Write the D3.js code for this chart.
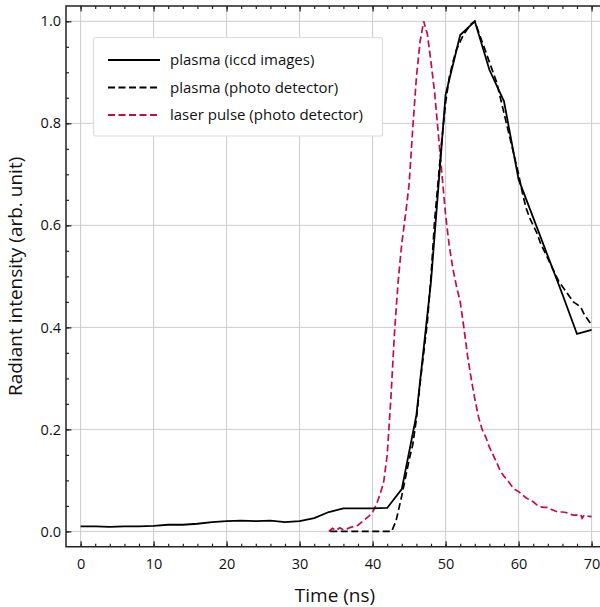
<!DOCTYPE html>
<html>
<head>
<meta charset="utf-8">
<script src="https://cdn.jsdelivr.net/npm/d3@7"></script>
<style>
body { margin: 0; background: #fff; }
text { font-family: "Open Sans", sans-serif; fill: #111; }
</style>
</head>
<body>
<script>
// plasma emission from iccd images (every 2 ns)
var iccdTime = [0, 2, 4, 6, 8, 10, 12, 14, 16, 18, 20, 22, 24, 26, 28, 30, 32, 34, 36, 38, 40, 42,
    44, 46, 48, 50, 52, 54, 56, 58, 60, 62, 64, 66, 68, 70];
var iccdValue = [0.010, 0.010, 0.009, 0.010, 0.010, 0.011, 0.013, 0.013, 0.015, 0.018, 0.020, 0.021,
    0.020, 0.021, 0.018, 0.020, 0.026, 0.038, 0.045, 0.045, 0.045, 0.046,
    0.083, 0.228, 0.490, 0.856, 0.973, 1.000, 0.905, 0.843, 0.690, 0.615, 0.540, 0.465, 0.387, 0.395];

// plasma emission from photo detector
var pdTime = [34.2, 42.6, 43.2, 44.0, 45.0, 45.5, 46.0, 46.5, 47.0, 47.5, 48.0, 48.5, 49.0, 49.5,
    50.0, 50.5, 51.0, 51.5, 52.0, 52.5, 53.0, 53.5, 54.0, 54.5, 55.0, 55.5, 56.0, 56.5, 57.0, 57.5,
    58.0, 58.5, 59.0, 59.5, 60.0, 60.5, 61.0, 61.5, 62.0, 62.5, 63.0, 63.5, 64.0, 64.5, 65.0, 65.5,
    66.0, 66.5, 67.0, 67.5, 68.0, 68.5, 69.0, 69.5, 70.0];
var pdValue = [0.000, 0.000, 0.020, 0.070, 0.140, 0.170, 0.220, 0.290, 0.350, 0.410, 0.500, 0.610,
    0.690, 0.770, 0.840, 0.890, 0.920, 0.945, 0.960, 0.975, 0.985, 0.995, 1.000, 0.980, 0.960, 0.940,
    0.920, 0.900, 0.880, 0.850, 0.820, 0.790, 0.760, 0.730, 0.700, 0.665, 0.635, 0.615, 0.600, 0.585,
    0.565, 0.550, 0.535, 0.520, 0.505, 0.490, 0.480, 0.470, 0.460, 0.450, 0.445, 0.440, 0.425, 0.415,
    0.405];

// laser pulse from photo detector
var laserTime = [34.0, 34.5, 35.0, 35.5, 36.0, 36.5, 37.0, 37.5, 38.0, 38.5, 39.0, 39.5, 40.0, 40.5,
    41.0, 41.5, 42.0, 42.5, 43.0, 43.5, 44.0, 44.5, 45.0, 45.5, 46.0, 46.5, 47.0, 47.5, 48.0, 48.5,
    49.0, 49.5, 50.0, 50.5, 51.0, 51.5, 52.0, 52.5, 53.0, 53.5, 54.0, 54.5, 55.0, 55.5, 56.0, 56.5,
    57.0, 57.5, 58.0, 58.5, 59.0, 59.5, 60.0, 60.5, 61.0, 61.5, 62.0, 62.5, 63.0, 63.5, 64.0, 64.5,
    65.0, 65.5, 66.0, 66.5, 67.0, 67.5, 68.0, 68.5, 68.7, 69.0, 69.5, 70.0];
var laserValue = [0.000, 0.006, 0.002, 0.007, 0.003, 0.005, 0.008, 0.010, 0.012, 0.018, 0.024, 0.030,
    0.038, 0.052, 0.072, 0.095, 0.150, 0.260, 0.390, 0.490, 0.565, 0.620, 0.680, 0.790, 0.890, 0.960,
    1.000, 0.975, 0.920, 0.860, 0.780, 0.700, 0.620, 0.560, 0.515, 0.480, 0.450, 0.400, 0.345, 0.300,
    0.260, 0.225, 0.200, 0.185, 0.165, 0.150, 0.135, 0.118, 0.108, 0.100, 0.090, 0.082, 0.078, 0.072,
    0.066, 0.062, 0.058, 0.052, 0.048, 0.047, 0.047, 0.043, 0.040, 0.038, 0.038, 0.037, 0.034, 0.032,
    0.032, 0.033, 0.026, 0.032, 0.030, 0.029];

var xTicks = [0, 10, 20, 30, 40, 50, 60, 70];
var yTicks = [0.0, 0.2, 0.4, 0.6, 0.8, 1.0];
var legendLabels = ["plasma (iccd images)", "plasma (photo detector)", "laser pulse (photo detector)"];

function init() {
    var w = 600;
    var h = 607;
    var left = 66, right = 606.2, top = 6, bottom = 546.7;
    var red = "#c70a4e";

    var xScale = d3.scaleLinear().domain([-2, 72]).range([left, right]);
    var yScale = d3.scaleLinear().domain([-0.03, 1.03]).range([bottom, top]);

    var svg = d3.select("body").append("svg")
        .attr("width", w)
        .attr("height", h);

    svg.append("clipPath").attr("id", "plotClip")
        .append("rect")
        .attr("x", left).attr("y", top)
        .attr("width", right - left).attr("height", bottom - top);

    // grid
    svg.append("g").selectAll("line").data(xTicks).enter().append("line")
        .attr("x1", function(d) { return xScale(d); })
        .attr("x2", function(d) { return xScale(d); })
        .attr("y1", top).attr("y2", bottom)
        .attr("stroke", "#cccccc").attr("stroke-width", 1);
    svg.append("g").selectAll("line").data(yTicks).enter().append("line")
        .attr("y1", function(d) { return yScale(d); })
        .attr("y2", function(d) { return yScale(d); })
        .attr("x1", left).attr("x2", right)
        .attr("stroke", "#cccccc").attr("stroke-width", 1);

    // lines
    var line = d3.line()
        .x(function(d) { return xScale(d[0]); })
        .y(function(d) { return yScale(d[1]); });

    var plot = svg.append("g").attr("clip-path", "url(#plotClip)");

    plot.append("path")
        .datum(d3.zip(laserTime, laserValue))
        .attr("d", line)
        .attr("fill", "none")
        .attr("stroke", red)
        .attr("stroke-width", 1.7)
        .attr("stroke-dasharray", "7,3.5");

    plot.append("path")
        .datum(d3.zip(iccdTime, iccdValue))
        .attr("d", line)
        .attr("fill", "none")
        .attr("stroke", "#000")
        .attr("stroke-width", 1.8);

    plot.append("path")
        .datum(d3.zip(pdTime, pdValue))
        .attr("d", line)
        .attr("fill", "none")
        .attr("stroke", "#000")
        .attr("stroke-width", 1.7)
        .attr("stroke-dasharray", "7,3.5");

    // axes (ticks pointing inward)
    var xMinor = d3.range(0, 72, 2);
    var yMinor = d3.range(0, 21).map(function(i) { return i * 0.05; });

    svg.append("g")
        .attr("transform", "translate(0," + bottom + ")")
        .call(d3.axisBottom(xScale).tickValues(xMinor).tickSize(-3).tickFormat(""))
        .call(function(g) { g.select(".domain").remove(); });
    svg.append("g")
        .attr("transform", "translate(0," + bottom + ")")
        .call(d3.axisBottom(xScale).tickValues(xTicks).tickSize(-5.5).tickPadding(12).tickSizeOuter(0))
        .call(function(g) { g.select(".domain").remove(); });

    svg.append("g")
        .attr("transform", "translate(0," + top + ")")
        .call(d3.axisTop(xScale).tickValues(xMinor).tickSize(-3).tickFormat(""))
        .call(function(g) { g.select(".domain").remove(); });
    svg.append("g")
        .attr("transform", "translate(0," + top + ")")
        .call(d3.axisTop(xScale).tickValues(xTicks).tickSize(-5.5).tickFormat(""))
        .call(function(g) { g.select(".domain").remove(); });

    svg.append("g")
        .attr("transform", "translate(" + left + ",0)")
        .call(d3.axisLeft(yScale).tickValues(yMinor).tickSize(-3).tickFormat(""))
        .call(function(g) { g.select(".domain").remove(); });
    svg.append("g")
        .attr("transform", "translate(" + left + ",0)")
        .call(d3.axisLeft(yScale).tickValues(yTicks).tickSize(-5.5).tickPadding(5).tickFormat(d3.format(".1f")))
        .call(function(g) { g.select(".domain").remove(); });

    svg.selectAll(".tick line").attr("stroke", "#222").attr("stroke-width", 1.2);
    svg.selectAll(".tick text").style("font-family", "'Open Sans', sans-serif")
        .style("font-size", "14.5px").attr("fill", "#111");

    // spines
    svg.append("path")
        .attr("d", "M" + right + "," + top + "H" + left + "V" + bottom + "H" + right)
        .attr("fill", "none")
        .attr("stroke", "#222")
        .attr("stroke-width", 1.5);

    // legend
    var legend = svg.append("g").attr("transform", "translate(93.5,37.5)");
    legend.append("rect")
        .attr("width", 289).attr("height", 98.5)
        .attr("rx", 2)
        .attr("fill", "#fff")
        .attr("stroke", "#dcdcdc")
        .attr("stroke-width", 1.2);
    var styles = [
        { color: "#000", dash: null },
        { color: "#000", dash: "7,3.5" },
        { color: red, dash: "7,3.5" }
    ];
    legendLabels.forEach(function(label, i) {
        var y = 22.5 + i * 27.5;
        legend.append("line")
            .attr("x1", 14.5).attr("x2", 66.5)
            .attr("y1", y).attr("y2", y)
            .attr("stroke", styles[i].color)
            .attr("stroke-width", 1.8)
            .attr("stroke-dasharray", styles[i].dash);
        legend.append("text")
            .attr("x", 76.5).attr("y", y)
            .attr("dy", "0.35em")
            .style("font-size", "15px")
            .text(label);
    });

    // axis labels
    svg.append("text")
        .attr("x", 335).attr("y", 602)
        .attr("text-anchor", "middle")
        .style("font-size", "19px")
        .text("Time (ns)");

    svg.append("text")
        .attr("transform", "translate(22," + ((top + bottom) / 2) + ") rotate(-90)")
        .attr("text-anchor", "middle")
        .style("font-size", "19px")
        .text("Radiant intensity (arb. unit)");
}

window.onload = init;
</script>
</body>
</html>
